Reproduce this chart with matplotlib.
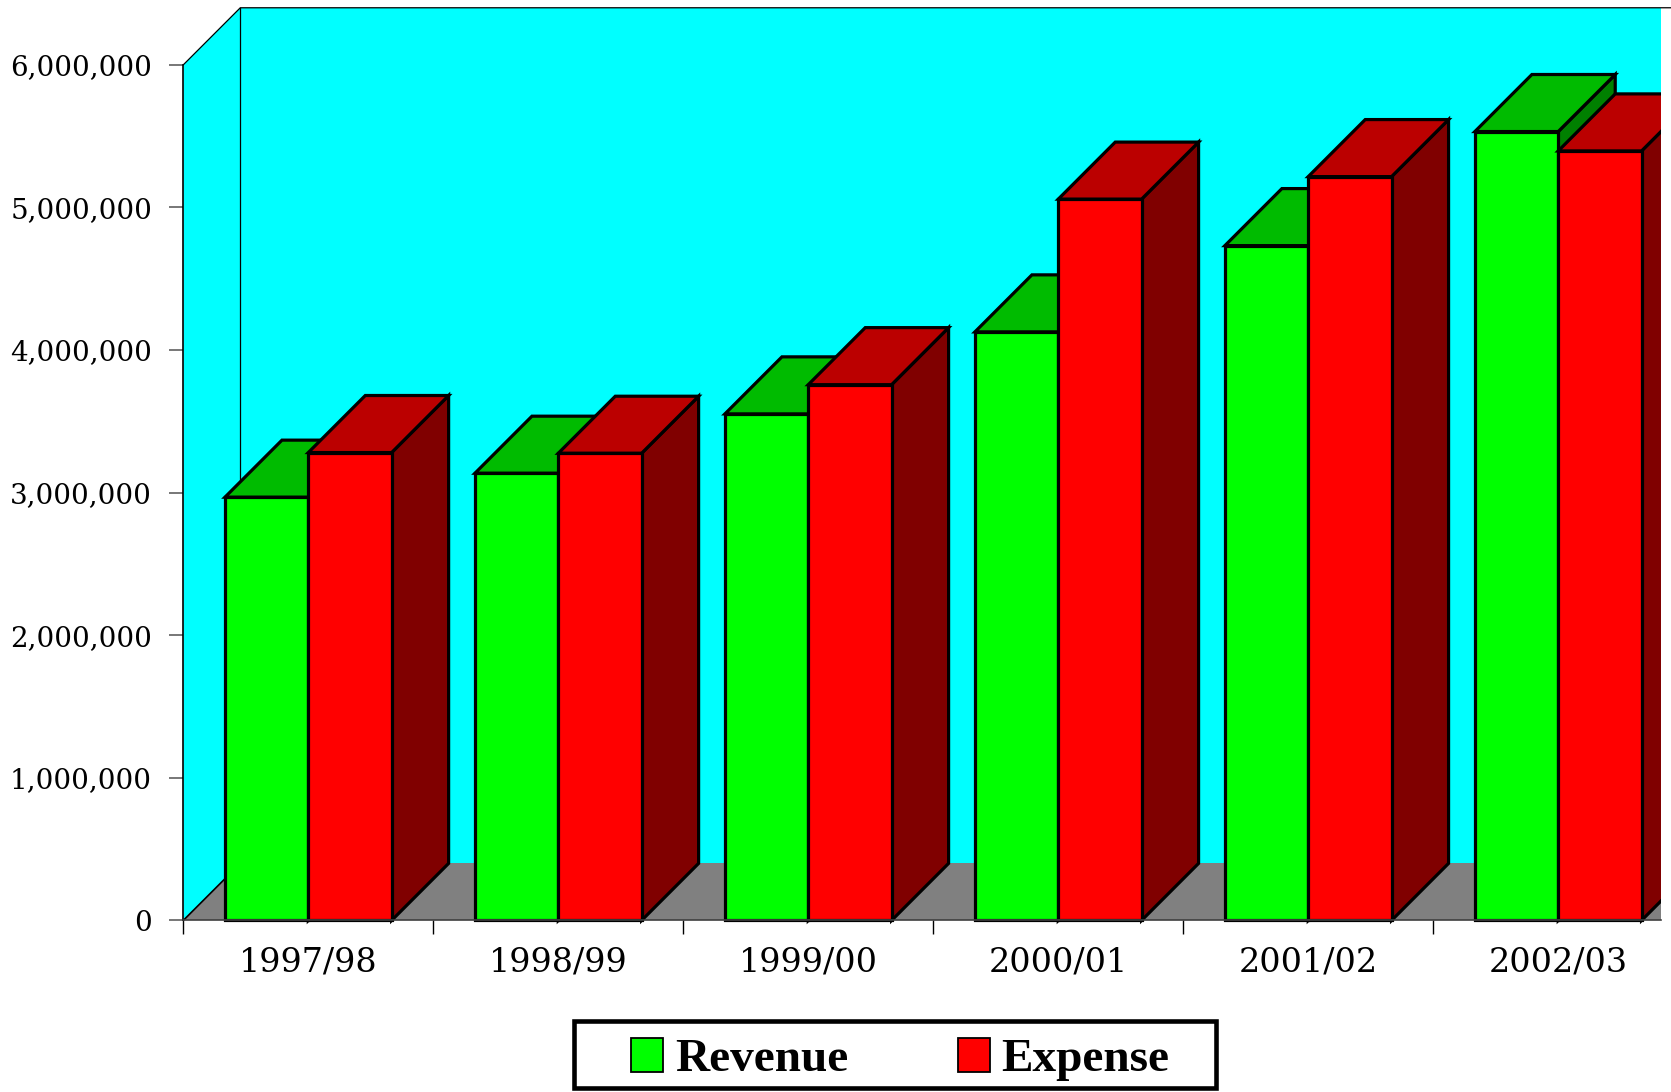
import matplotlib
matplotlib.use("Agg")
import matplotlib.pyplot as plt
from matplotlib.patches import Polygon, Rectangle

# Revenue vs expense per financial year
years = ["1997/98", "1998/99", "1999/00", "2000/01", "2001/02", "2002/03"]
revenue = [2968000, 3136000, 3552000, 4127000, 4732000, 5532000]
expense = [3281000, 3276000, 3757000, 5058000, 5216000, 5396000]
value_ticks = [0, 1000000, 2000000, 3000000, 4000000, 5000000, 6000000]
series_names = ["Revenue", "Expense"]

# colours for front / top / side faces
REV = ("#00FF00", "#00BB00", "#008000")
EXP = ("#FF0000", "#BB0000", "#800000")
WALL = "#00FFFF"
FLOOR = "#808080"

# fake 3d depth: offset of the back plane, in axis units
DX = 0.228
DY = 400000
BAR_W = 1 / 3
EDGE_LW = 2.3

XMAX = 5.911
YMAX = 6.42e6
YMIN = -0.2e6
TOP = value_ticks[-1]

fig = plt.figure(figsize=(16.71, 10.92), dpi=100)
ax = fig.add_axes([0.1097, 0.1310, 0.8843, 0.8645])
ax.set_xlim(0, XMAX)
ax.set_ylim(YMIN, YMAX)
ax.patch.set_visible(False)

# walls and floor
ax.add_patch(Polygon([(0, 0), (DX, DY), (DX, TOP + DY), (0, TOP)],
                     fc=WALL, ec="none", zorder=0))
ax.add_patch(Rectangle((DX, DY), XMAX + 1, TOP, fc=WALL, ec="none", zorder=0))
ax.add_patch(Polygon([(0, 0), (XMAX + 1, 0), (XMAX + 1, DY), (DX, DY)],
                     fc=FLOOR, ec="none", zorder=0.5))
ax.plot([DX, DX], [DY, TOP + DY], color="black", lw=0.9, zorder=0.6)
ax.plot([0, DX, XMAX + 1], [TOP, TOP + DY, TOP + DY], color="black", lw=0.9,
        zorder=0.6, clip_on=False)
ax.plot([0, DX], [0, DY], color="black", lw=1.2, zorder=0.6)


def draw_series(offset, values, colours, z):
    front, top, side = colours
    xs = [i + offset for i in range(len(values))]
    bars = ax.bar(xs, values, BAR_W, align="edge", color=front,
                  edgecolor="black", linewidth=EDGE_LW)
    for x0, h, bar in zip(xs, values, bars):
        x1 = x0 + BAR_W
        ax.add_patch(Polygon([(x1, 0), (x1 + DX, DY), (x1 + DX, h + DY), (x1, h)],
                             fc=side, ec="black", lw=EDGE_LW, joinstyle="miter",
                             zorder=z))
        ax.add_patch(Polygon([(x0, h), (x0 + DX, h + DY), (x1 + DX, h + DY), (x1, h)],
                             fc=top, ec="black", lw=EDGE_LW, joinstyle="miter",
                             zorder=z))
        bar.set_zorder(z + 0.1)
        bar.set_joinstyle("miter")


draw_series(1 / 6, revenue, REV, 2)
draw_series(1 / 2, expense, EXP, 3)

# axes lines and ticks
for side in ("top", "right"):
    ax.spines[side].set_visible(False)
ax.spines["left"].set_bounds(0, TOP)
ax.spines["left"].set_linewidth(1.2)
ax.spines["left"].set_zorder(5)
ax.spines["bottom"].set_position(("data", 0))
ax.spines["bottom"].set_bounds(0, XMAX)
ax.spines["bottom"].set_color("#404040")
ax.spines["bottom"].set_linewidth(1.2)
ax.spines["bottom"].set_zorder(5)

ax.set_yticks(value_ticks)
ax.set_yticklabels([f"{v:,}" for v in value_ticks])
ax.tick_params(axis="y", length=10, width=1.2, color="#606060", pad=12.5,
               labelsize=20)
for lab in ax.get_yticklabels():
    lab.set_family("DejaVu Serif")

ax.set_xticks(range(len(years)))
ax.set_xticklabels([])
ax.set_xticks([i + 0.5 for i in range(len(years))], minor=True)
ax.set_xticklabels(years, minor=True)
ax.tick_params(axis="x", which="major", length=10, width=1.0, color="black")
ax.tick_params(axis="x", which="minor", length=0, pad=19, labelsize=24)
for lab in ax.get_xticklabels(minor=True):
    lab.set_family("DejaVu Serif")

# legend box drawn in pixel space
lax = fig.add_axes([0, 0, 1, 1], zorder=10)
lax.set_xlim(0, 1671)
lax.set_ylim(1092, 0)
lax.axis("off")
lax.add_patch(Rectangle((574, 1020.6), 1215.7 - 574, 1087.7 - 1020.6,
                        fc="white", ec="black", lw=3.3, joinstyle="miter"))
for name, colours, mx, tx in zip(series_names, (REV, EXP), (631, 958), (675, 1001)):
    lax.add_patch(Rectangle((mx, 1038), 31.7, 33.7, fc=colours[0], ec="black", lw=1.3))
    lax.text(tx, 1071, name, fontsize=34, fontweight="bold",
             family="Liberation Serif", ha="left", va="baseline")

fig.savefig("out.png", dpi=100)
